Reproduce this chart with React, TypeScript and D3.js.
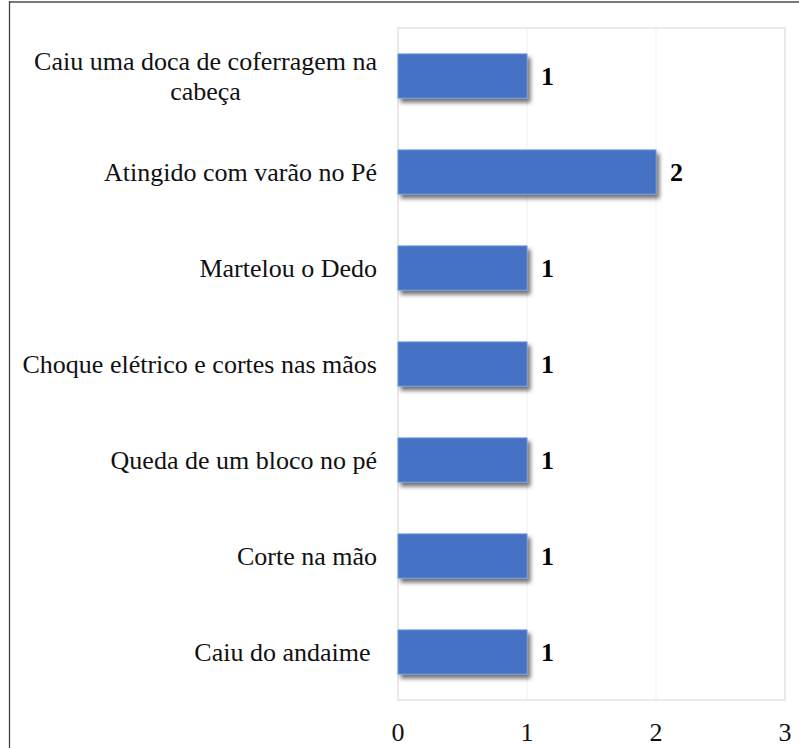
import React from "react";
import * as d3 from "d3";

const categories: string[] = [
  "Caiu uma doca de coferragem na cabeça",
  "Atingido com varão no Pé",
  "Martelou o Dedo",
  "Choque elétrico e cortes nas mãos",
  "Queda de um bloco no pé",
  "Corte na mão",
  "Caiu do andaime ",
];
const values: number[] = [1, 2, 1, 1, 1, 1, 1];
const xTicks: number[] = [0, 1, 2, 3];

const W = 799;
const H = 748;
const FONT = "Liberation Serif";
const FS = 26;

function measure(text: string, weight = "normal"): number {
  const c = document.createElement("canvas");
  const ctx = c.getContext("2d")!;
  ctx.font = `${weight} ${FS}px "Liberation Serif"`;
  return ctx.measureText(text).width;
}

function wrap(text: string, maxW: number): string[] {
  const words = text.split(" ");
  const lines: string[] = [];
  let cur = "";
  for (const w of words) {
    const t = cur ? cur + " " + w : w;
    if (measure(t) > maxW && cur) {
      lines.push(cur);
      cur = w;
    } else cur = t;
  }
  if (cur) lines.push(cur);
  return lines;
}

const txt: React.CSSProperties = { fontFamily: FONT, fontSize: FS, whiteSpace: "pre" };

export default function App() {
  const plot = { left: 398, right: 785, top: 28, bottom: 700 };
  const x = d3.scaleLinear().domain([0, 3]).range([plot.left, plot.right]);
  const y = d3
    .scaleBand<string>()
    .domain(categories)
    .range([plot.top, plot.bottom])
    .paddingInner(0.54)
    .paddingOuter(0.27);
  const labelRight = 377;
  const lineH = 30;

  return (
    <svg
      width={W}
      height={H}
      style={{ position: "absolute", left: 0, top: 0, background: "#fff" }}
    >
      <defs>
        <filter id="sh" x="-10%" y="-30%" width="130%" height="180%">
          <feDropShadow dx="3" dy="4" stdDeviation="2" floodColor="#000" floodOpacity="0.55" />
        </filter>
      </defs>
      <line x1={9.5} x2={W} y1={2} y2={2} stroke="#7a7a7a" strokeWidth={2} />
      <line x1={9.5} x2={9.5} y1={1} y2={H} stroke="#444" strokeWidth={1.3} />
      {xTicks.slice(1, -1).map((t) => (
        <line key={t} x1={x(t)} x2={x(t)} y1={plot.top} y2={plot.bottom} stroke="#f1f1f1" strokeWidth={1} />
      ))}
      <rect
        x={plot.left}
        y={plot.top}
        width={plot.right - plot.left}
        height={plot.bottom - plot.top}
        fill="none"
        stroke="#e3e3e3"
        strokeWidth={1.5}
      />
      {categories.map((c, i) => (
        <rect
          key={c}
          x={x(0)}
          y={y(c)!}
          width={x(values[i]) - x(0)}
          height={y.bandwidth()}
          fill="#4472C4"
          stroke="#6f97da"
          strokeWidth={1}
          filter="url(#sh)"
        />
      ))}
      {categories.map((c, i) => (
        <text
          key={c}
          x={x(values[i]) + 14}
          y={y(c)! + y.bandwidth() / 2}
          dy="0.35em"
          style={{ ...txt, fontWeight: "bold" }}
          fill="#000"
        >
          {values[i]}
        </text>
      ))}
      {categories.map((c) => {
        const lines = wrap(c, 362);
        const widths = lines.map((l) => measure(l));
        const maxW = Math.max(...widths);
        const cx = labelRight - maxW / 2;
        const cy = y(c)! + y.bandwidth() / 2;
        const y0 = cy - ((lines.length - 1) * lineH) / 2;
        return (
          <text key={c} style={txt} fill="#111" textAnchor="middle">
            {lines.map((l, j) => (
              <tspan key={j} x={cx} y={y0 + j * lineH} dy="0.35em">
                {l}
              </tspan>
            ))}
          </text>
        );
      })}
      {xTicks.map((t) => (
        <text key={t} x={x(t)} y={741} style={txt} textAnchor="middle" fill="#111">
          {t}
        </text>
      ))}
    </svg>
  );
}
